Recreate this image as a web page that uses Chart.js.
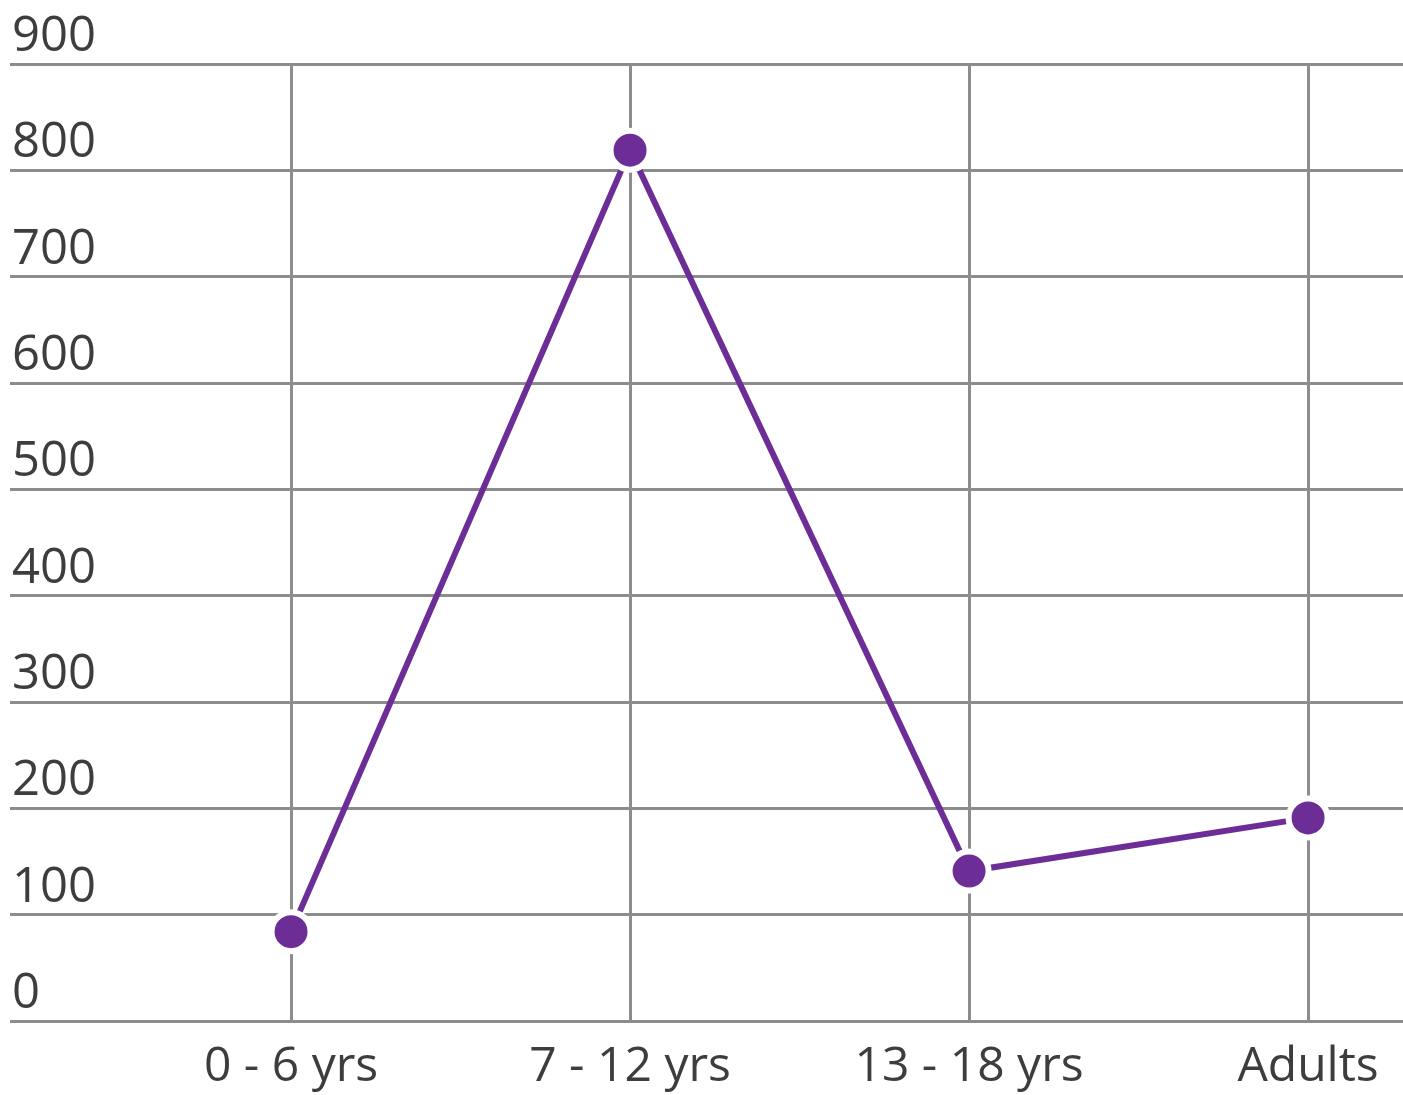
<!DOCTYPE html>
<html>
<head>
<meta charset="utf-8">
<script src="https://cdn.jsdelivr.net/npm/chart.js@4"></script>
<style>
  html, body { margin: 0; padding: 0; background: #fff; }
  #wrap { width: 1403px; height: 1095px; }
</style>
</head>
<body>
<div id="wrap"><canvas id="age-chart"></canvas></div>
<script>
"use strict";
// data
const age_groups = ['0 - 6 yrs', '7 - 12 yrs', '13 - 18 yrs', 'Adults'];
const counts = [84, 819, 141, 191];
const y_ticks = [0, 100, 200, 300, 400, 500, 600, 700, 800, 900];

const purple = '#6c2e96';
const grid_color = '#8c8c8c';
const font_family = '"Open Sans", "Noto Sans", sans-serif';

// no extra room for the labels, the plot runs to the edges
function no_padding (scale) {
    scale.paddingLeft = 0;
    scale.paddingRight = 0;
    scale.paddingTop = 0;
    scale.paddingBottom = 0;
}

const age_ctx = document.getElementById('age-chart').getContext('2d');
const age_chart = new Chart(age_ctx, {
    type: 'line',
    data: {
        datasets: [{
            data: counts.map((c, i) => ({x: i, y: c})),
            borderColor: purple,
            borderWidth: 6,
            pointRadius: 19.5,
            pointHoverRadius: 19.5,
            pointBackgroundColor: purple,
            pointBorderColor: '#ffffff',
            pointBorderWidth: 6,
            tension: 0,
        }]
    },
    options: {
        responsive: true,
        maintainAspectRatio: false,
        animation: false,
        layout: { autoPadding: false, padding: { left: 10, top: 64, right: 0, bottom: 0 } },
        plugins: { legend: { display: false }, tooltip: { enabled: false } },
        scales: {
            x: {
                type: 'linear',
                min: -0.829,
                max: 3.28,
                afterBuildTicks: (scale) => { scale.ticks = age_groups.map((g, i) => ({value: i})); },
                afterFit: (scale) => { scale.height = 74; no_padding(scale); },
                grid: { color: grid_color, lineWidth: 3, drawTicks: false },
                border: { display: false },
                ticks: {
                    callback: (v) => age_groups[v],
                    color: '#3d3d3d',
                    font: { family: font_family, size: 48 },
                    padding: 18,
                    maxRotation: 0,
                    autoSkip: false,
                }
            },
            y: {
                min: 0,
                max: 900,
                afterBuildTicks: (scale) => { scale.ticks = y_ticks.map((v) => ({value: v})); },
                afterFit: (scale) => { scale.width = 0; no_padding(scale); },
                grid: { color: grid_color, lineWidth: 3, drawTicks: false },
                border: { display: false },
                ticks: {
                    mirror: true,
                    padding: 2,
                    labelOffset: -27,
                    color: '#3d3d3d',
                    font: { family: font_family, size: 49 },
                }
            }
        }
    }
});
</script>
</body>
</html>
